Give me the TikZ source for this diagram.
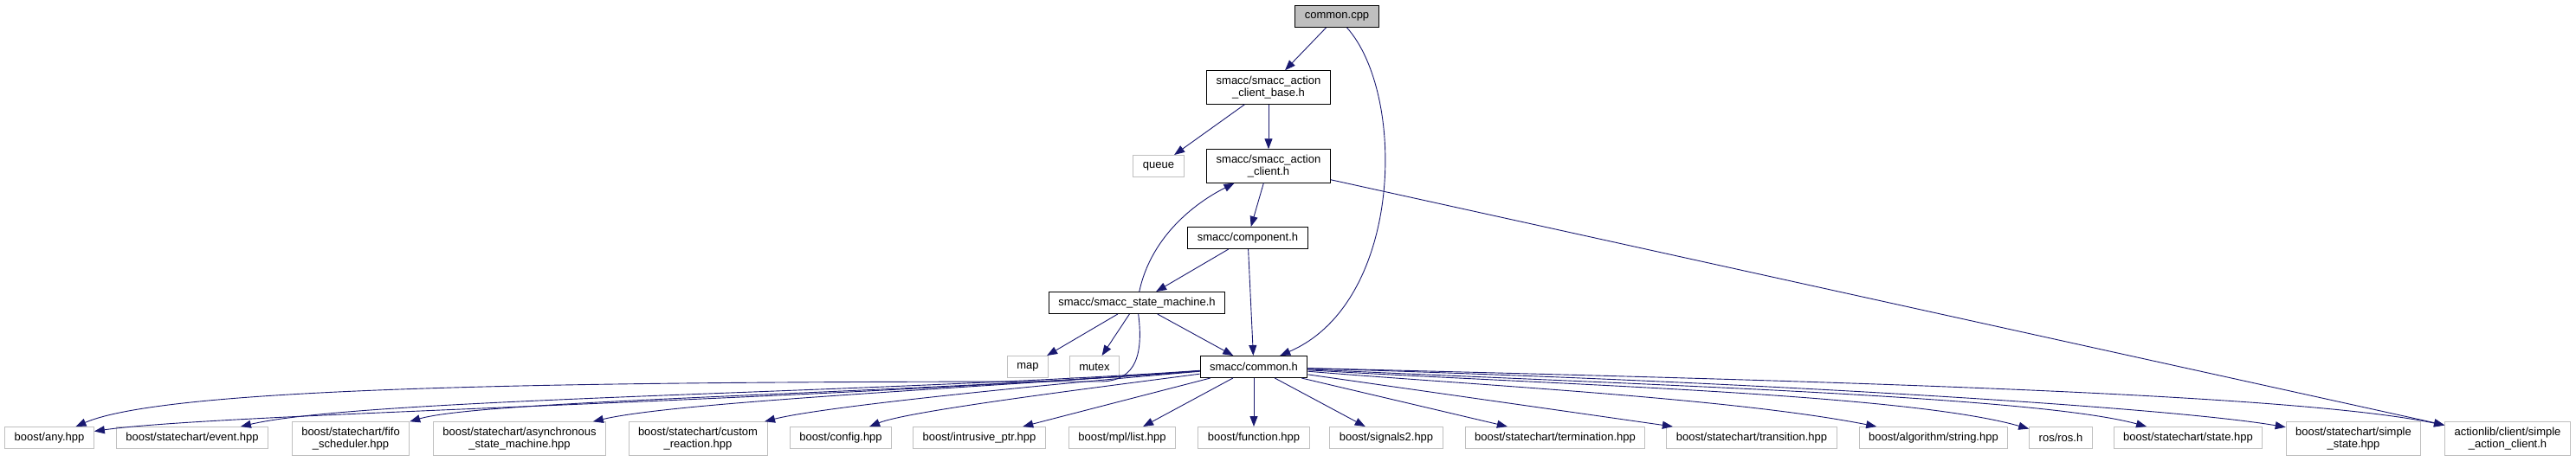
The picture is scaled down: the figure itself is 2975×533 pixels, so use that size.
\documentclass[tikz,border=0pt]{standalone}
\usepackage{fontspec}
\setmainfont{Liberation Sans}
\usetikzlibrary{arrows.meta}
\definecolor{edgeblue}{HTML}{191970}
\definecolor{boxgrey}{HTML}{BFBFBF}

\begin{document}
\begin{tikzpicture}[x=1pt, y={(0pt,-1pt)}]
      % Graphe des inclusions de common.cpp
      % On définit les styles
      \tikzstyle{file} = [draw, line width=1pt, fill=white, align=center, font=\fontsize{13}{14.5}\selectfont, inner xsep=11pt, inner ysep=6pt, minimum height=25pt]
      \tikzstyle{docfile} = [file, draw=black]
      \tikzstyle{sysfile} = [file, draw=boxgrey]
      \tikzstyle{incl} = [-{Triangle[length=12pt, width=9pt]}, line width=0.9pt, color=edgeblue]

      \useasboundingbox (0,0) rectangle (2975,533);

      % Haut du graphe
      \node[docfile, fill=boxgrey] (cpp) at (1544,19) {common.cpp};
      \node[docfile] (base) at (1465,101) {smacc/smacc\_action\\\_client\_base.h};
      \node[sysfile] (queue) at (1338,192) {queue};
      \node[docfile] (client) at (1465,192) {smacc/smacc\_action\\\_client.h};
      \node[docfile] (component) at (1441,275) {smacc/component.h};
      \node[docfile] (machine) at (1313,350) {smacc/smacc\_state\_machine.h};
      \node[sysfile] (map) at (1187,424) {map};
      \node[sysfile] (mutex) at (1264,424) {mutex};
      \node[docfile] (common) at (1448,424) {smacc/common.h};

      % Ligne du bas
      \node[sysfile] (anyhpp) at (57,506) {boost/any.hpp};
      \node[sysfile] (event) at (222,506) {boost/statechart/event.hpp};
      \node[sysfile] (fifo) at (405,507) {boost/statechart/fifo\\\_scheduler.hpp};
      \node[sysfile] (async) at (600,507) {boost/statechart/asynchronous\\\_state\_machine.hpp};
      \node[sysfile] (custom) at (806,507) {boost/statechart/custom\\\_reaction.hpp};
      \node[sysfile] (config) at (971,506) {boost/config.hpp};
      \node[sysfile] (intrusive) at (1131,506) {boost/intrusive\_ptr.hpp};
      \node[sysfile] (mpllist) at (1296,506) {boost/mpl/list.hpp};
      \node[sysfile] (function) at (1448,506) {boost/function.hpp};
      \node[sysfile] (signals) at (1601,506) {boost/signals2.hpp};
      \node[sysfile] (termination) at (1796,506) {boost/statechart/termination.hpp};
      \node[sysfile] (transition) at (2023,506) {boost/statechart/transition.hpp};
      \node[sysfile] (algostring) at (2233,506) {boost/algorithm/string.hpp};
      \node[sysfile] (ros) at (2380,506) {ros/ros.h};
      \node[sysfile] (state) at (2527,506) {boost/statechart/state.hpp};
      \node[sysfile] (simplestate) at (2718,507) {boost/statechart/simple\\\_state.hpp};
      \node[sysfile] (simpleclient) at (2896,507) {actionlib/client/simple\\\_action\_client.h};

      % Arrows
      \draw[incl] (cpp) -- (base);
      \draw[incl] (cpp) .. controls (1625,110) and (1620,350) .. (common);
      \draw[incl] (base) -- (queue);
      \draw[incl] (base) -- (client);
      \draw[incl] (client) -- (component);
      \draw[incl] (client) -- (simpleclient);
      \draw[incl] (component) -- (machine);
      \draw[incl] (component) -- (common);
      \draw[incl] (machine) .. controls (1330,270) and (1385,232) .. (client);
      \draw[incl] (machine) -- (map);
      \draw[incl] (machine) -- (mutex);
      \draw[incl] (machine) -- (common);
      \draw[incl] (machine) .. controls (1322,420) and (1305,441) .. (1270,441) .. controls (700,441) and (200,445) .. (anyhpp);

      % Inclusions de common.h
      \draw[incl] (common) .. controls (900,465) and (250,478) .. (anyhpp);
      \draw[incl] (common) .. controls (1000,455) and (420,460) .. (event);
      \draw[incl] (common) .. controls (1050,455) and (560,462) .. (fifo);
      \draw[incl] (common) .. controls (1100,450) and (780,465) .. (async);
      \draw[incl] (common) .. controls (1200,445) and (950,470) .. (custom);
      \draw[incl] (common) .. controls (1250,450) and (1050,475) .. (config);
      \draw[incl] (common) -- (intrusive);
      \draw[incl] (common) -- (mpllist);
      \draw[incl] (common) -- (function);
      \draw[incl] (common) -- (signals);
      \draw[incl] (common) -- (termination);
      \draw[incl] (common) -- (transition);
      \draw[incl] (common) .. controls (1700,445) and (2000,460) .. (algostring);
      \draw[incl] (common) .. controls (1800,445) and (2200,455) .. (ros);
      \draw[incl] (common) .. controls (1900,445) and (2350,458) .. (state);
      \draw[incl] (common) .. controls (2000,440) and (2500,470) .. (simplestate);
      \draw[incl] (common) .. controls (2100,440) and (2650,455) .. (simpleclient);

    \end{tikzpicture}
\end{document}
